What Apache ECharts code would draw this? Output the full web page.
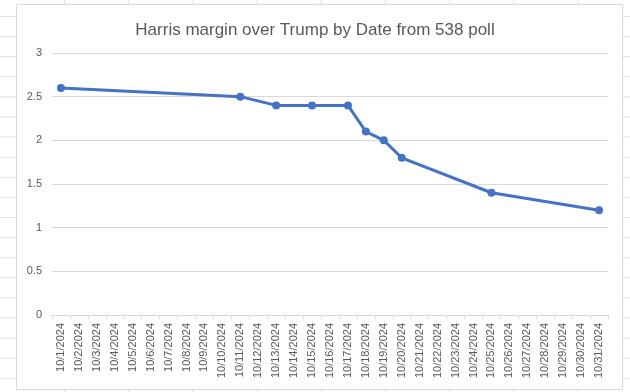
<!DOCTYPE html>
<html>
<head>
<meta charset="utf-8">
<script src="https://cdn.jsdelivr.net/npm/echarts@6/dist/echarts.min.js"></script>
<style>
html,body{margin:0;padding:0;background:#fff;}
#chart{width:630px;height:392px;}
</style>
</head>
<body>
<div id="chart"></div>
<script>
const titleText = 'Harris margin over Trump by Date from 538 poll';
const dates = ['10/1/2024','10/2/2024','10/3/2024','10/4/2024','10/5/2024','10/6/2024','10/7/2024','10/8/2024','10/9/2024','10/10/2024','10/11/2024','10/12/2024','10/13/2024','10/14/2024','10/15/2024','10/16/2024','10/17/2024','10/18/2024','10/19/2024','10/20/2024','10/21/2024','10/22/2024','10/23/2024','10/24/2024','10/25/2024','10/26/2024','10/27/2024','10/28/2024','10/29/2024','10/30/2024','10/31/2024'];
const pollDates = ['10/1/2024','10/11/2024','10/13/2024','10/15/2024','10/17/2024','10/18/2024','10/19/2024','10/20/2024','10/25/2024','10/31/2024'];
const margins = [2.6, 2.5, 2.4, 2.4, 2.4, 2.1, 2.0, 1.8, 1.4, 1.2];

const seriesData = dates.map(d => {
  const i = pollDates.indexOf(d);
  return i >= 0 ? margins[i] : null;
});

// spreadsheet background (decoration)
const bg = [];
for (let x = 64.5; x < 630; x += 64.2) {
  bg.push({type:'line', z:-100, shape:{x1:x,y1:0,x2:x,y2:392}, style:{stroke:'#e1e1e1',lineWidth:1}});
}
for (let y = 16.5; y < 392; y += 20.1) {
  bg.push({type:'line', z:-100, shape:{x1:0,y1:y,x2:630,y2:y}, style:{stroke:'#e1e1e1',lineWidth:1}});
}
bg.push({type:'rect', z:-90, shape:{x:16.5,y:4.5,width:606,height:385}, style:{fill:'#ffffff',stroke:'#d9d9d9',lineWidth:1}});

const chart = echarts.init(document.getElementById('chart'), null, {renderer:'canvas'});
chart.setOption({
  animation:false,
  backgroundColor:'#ffffff',
  graphic: bg,
  title:{
    text:titleText, left:'center', top:17,
    textStyle:{fontFamily:'Liberation Sans', fontSize:17, fontWeight:'normal', color:'#595959'}
  },
  grid:{left:52, right:22, top:53, bottom:77, containLabel:false},
  xAxis:{
    type:'category', data:dates, boundaryGap:true,
    axisLine:{lineStyle:{color:'#d9d9d9', width:1}},
    axisTick:{show:true, alignWithLabel:false, length:4, lineStyle:{color:'#d9d9d9'}},
    axisLabel:{interval:0, rotate:90, fontFamily:'Liberation Sans', fontSize:11, color:'#595959', margin:8},
    splitLine:{show:false}
  },
  yAxis:{
    type:'value', min:0, max:3, interval:0.5,
    axisLine:{show:false}, axisTick:{show:false},
    axisLabel:{fontFamily:'Liberation Sans', fontSize:11, color:'#595959', margin:10},
    splitLine:{lineStyle:{color:'#d9d9d9', width:1}}
  },
  series:[{
    type:'line', data:seriesData, connectNulls:true,
    symbol:'circle', symbolSize:8, showAllSymbol:true,
    lineStyle:{color:'#4472C4', width:3, cap:'round', join:'round'},
    itemStyle:{color:'#4472C4'}
  }]
});
</script>
</body>
</html>
